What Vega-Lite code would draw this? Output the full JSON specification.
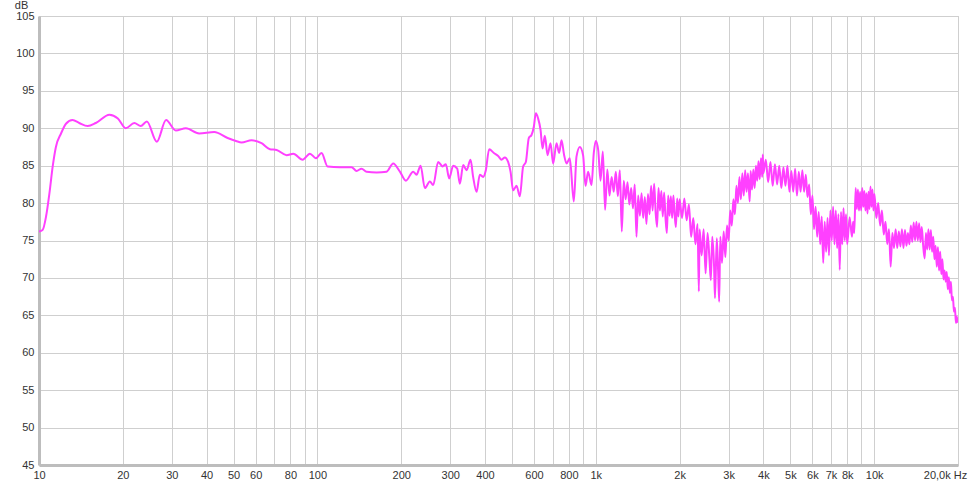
{
  "$schema": "https://vega.github.io/schema/vega-lite/v6.json",
  "width": 919,
  "height": 449,
  "autosize": {"type": "none"},
  "padding": {"left": 39, "top": 16, "right": 17, "bottom": 22},
  "background": "#ffffff",
  "config": {
    "view": {"stroke": "#c4c4c4", "strokeWidth": 1},
    "axis": {
      "labelFont": "Liberation Sans",
      "labelFontSize": 11,
      "labelColor": "#333333",
      "gridColor": "#cfcfcf",
      "gridWidth": 1,
      "gridOpacity": 1,
      "ticks": false,
      "domainColor": "#bdbdbd",
      "domainWidth": 3
    }
  },
  "data": {"values": [
    {"f":10.0,"db":76.2},{"f":10.3,"db":76.4},{"f":10.6,"db":78.2},{"f":10.9,"db":81.3},{"f":11.2,"db":84.9},{"f":11.5,"db":87.5},{"f":12.0,"db":89.3},{"f":12.5,"db":90.6},{"f":13.2,"db":91.1},{"f":13.95,"db":90.7},{"f":14.96,"db":90.3},{"f":16.0,"db":90.7},{"f":17.9,"db":91.8},{"f":19.2,"db":91.3},{"f":20.5,"db":90.0},{"f":22.0,"db":90.7},{"f":23.2,"db":90.3},{"f":24.4,"db":90.9},{"f":26.5,"db":88.2},{"f":28.6,"db":91.1},{"f":31.0,"db":89.7},{"f":33.7,"db":90.0},{"f":37.6,"db":89.3},{"f":42.6,"db":89.5},{"f":47.6,"db":88.7},{"f":51.0,"db":88.3},{"f":53.4,"db":88.1},{"f":58.0,"db":88.4},{"f":63.0,"db":88.0},{"f":67.5,"db":87.2},{"f":71.4,"db":87.1},{"f":77.5,"db":86.4},{"f":81.9,"db":86.6},{"f":88.5,"db":85.8},{"f":94.0,"db":86.6},{"f":98.8,"db":86.0},{"f":103.5,"db":86.7},{"f":108.8,"db":84.9},{"f":120.4,"db":84.8},{"f":132.7,"db":84.8},{"f":138.3,"db":84.3},{"f":144.1,"db":84.6},{"f":150.2,"db":84.2},{"f":163.2,"db":84.1},{"f":177.2,"db":84.2},{"f":187.2,"db":85.3},{"f":197.9,"db":84.2},{"f":207.9,"db":83.0},{"f":220.8,"db":84.2},{"f":227.1,"db":83.8},{"f":234.8,"db":85.0},{"f":243.2,"db":82.0},{"f":253.5,"db":82.9},{"f":260.5,"db":82.4},{"f":271.5,"db":85.5},{"f":281.6,"db":84.9},{"f":289.3,"db":85.2},{"f":297.4,"db":83.3},{"f":307.4,"db":85.0},{"f":317.8,"db":84.6},{"f":324.9,"db":82.6},{"f":333.9,"db":85.1},{"f":343.4,"db":84.4},{"f":354.9,"db":85.8},{"f":362.6,"db":83.5},{"f":372.9,"db":81.5},{"f":383.3,"db":83.8},{"f":393.8,"db":83.5},{"f":402.7,"db":84.4},{"f":414.0,"db":87.2},{"f":430.4,"db":86.7},{"f":446.0,"db":86.3},{"f":458.7,"db":85.8},{"f":471.3,"db":86.1},{"f":484.3,"db":85.5},{"f":494.0,"db":84.2},{"f":504.7,"db":81.7},{"f":519.2,"db":82.3},{"f":533.5,"db":80.9},{"f":548.3,"db":84.9},{"f":560.7,"db":85.5},{"f":574.7,"db":88.7},{"f":587.7,"db":89.1},{"f":599.0,"db":90.2},{"f":609.0,"db":92.0},{"f":620.7,"db":91.3},{"f":633.1,"db":89.8},{"f":643.7,"db":87.3},{"f":656.1,"db":89.0},{"f":670.9,"db":86.4},{"f":687.7,"db":88.0},{"f":702.7,"db":85.3},{"f":722.7,"db":88.0},{"f":738.4,"db":86.7},{"f":753.2,"db":88.4},{"f":769.6,"db":86.4},{"f":785.0,"db":85.3},{"f":806.6,"db":86.0},{"f":833.7,"db":80.2},{"f":852.5,"db":86.2},{"f":876.0,"db":87.5},{"f":900.3,"db":86.4},{"f":918.3,"db":82.3},{"f":938.4,"db":84.2},{"f":965.2,"db":82.4},{"f":983.6,"db":86.7},
    {"f":1000,"db":88.3},{"f":1020,"db":87.1},{"f":1040,"db":83.0},{"f":1060,"db":86.9},{"f":1080,"db":79.1},{"f":1100,"db":84.5},{"f":1120,"db":81.0},{"f":1140,"db":83.5},{"f":1160,"db":81.5},{"f":1180,"db":84.2},{"f":1200,"db":80.9},{"f":1220,"db":84.4},{"f":1240,"db":76.2},{"f":1260,"db":83.0},{"f":1280,"db":80.5},{"f":1300,"db":82.8},{"f":1320,"db":79.8},{"f":1340,"db":82.0},{"f":1360,"db":79.3},{"f":1380,"db":82.5},{"f":1400,"db":75.5},{"f":1420,"db":81.0},{"f":1440,"db":78.3},{"f":1460,"db":81.3},{"f":1480,"db":78.0},{"f":1500,"db":80.8},{"f":1520,"db":77.2},{"f":1540,"db":81.2},{"f":1560,"db":78.5},{"f":1580,"db":82.3},{"f":1600,"db":79.0},{"f":1620,"db":82.6},{"f":1640,"db":78.8},{"f":1660,"db":76.8},{"f":1680,"db":82.0},{"f":1700,"db":79.0},{"f":1720,"db":81.6},{"f":1740,"db":78.2},{"f":1760,"db":81.4},{"f":1780,"db":78.0},{"f":1800,"db":76.0},{"f":1820,"db":81.0},{"f":1840,"db":78.3},{"f":1860,"db":80.9},{"f":1880,"db":78.0},{"f":1900,"db":81.0},{"f":1920,"db":78.4},{"f":1940,"db":76.8},{"f":1960,"db":80.6},{"f":1980,"db":78.2},{"f":2000,"db":80.5},
    {"f":2040,"db":78.0},{"f":2080,"db":80.6},{"f":2120,"db":77.7},{"f":2160,"db":79.8},{"f":2200,"db":75.5},{"f":2240,"db":78.0},{"f":2280,"db":74.5},{"f":2320,"db":77.2},{"f":2345,"db":68.2},{"f":2360,"db":76.5},{"f":2400,"db":73.0},{"f":2440,"db":76.5},{"f":2480,"db":70.6},{"f":2520,"db":76.0},{"f":2560,"db":72.5},{"f":2590,"db":69.7},{"f":2620,"db":75.5},{"f":2660,"db":71.5},{"f":2680,"db":67.3},{"f":2720,"db":75.3},{"f":2750,"db":71.0},{"f":2775,"db":66.8},{"f":2800,"db":75.5},{"f":2840,"db":72.0},{"f":2880,"db":76.2},{"f":2920,"db":72.8},{"f":2960,"db":77.0},{"f":3000,"db":75.0},{"f":3040,"db":79.0},{"f":3080,"db":77.0},{"f":3120,"db":80.5},{"f":3160,"db":78.5},{"f":3200,"db":82.3},{"f":3240,"db":80.0},{"f":3280,"db":83.5},{"f":3320,"db":80.5},{"f":3360,"db":84.0},{"f":3400,"db":81.0},{"f":3440,"db":84.4},{"f":3480,"db":81.5},{"f":3520,"db":84.0},{"f":3570,"db":80.2},{"f":3600,"db":84.3},{"f":3640,"db":81.8},{"f":3680,"db":84.5},{"f":3720,"db":82.0},{"f":3760,"db":85.0},{"f":3800,"db":83.0},{"f":3840,"db":85.6},{"f":3880,"db":83.2},{"f":3920,"db":86.0},{"f":3960,"db":83.5},{"f":3980,"db":86.5},{"f":4000,"db":84.0},
    {"f":4080,"db":85.8},{"f":4160,"db":82.8},{"f":4240,"db":85.5},{"f":4320,"db":82.3},{"f":4400,"db":85.2},{"f":4480,"db":82.5},{"f":4560,"db":85.0},{"f":4640,"db":82.0},{"f":4720,"db":84.8},{"f":4800,"db":82.3},{"f":4880,"db":85.0},{"f":4960,"db":81.5},{"f":5040,"db":84.3},{"f":5120,"db":81.5},{"f":5200,"db":84.6},{"f":5280,"db":81.0},{"f":5360,"db":84.2},{"f":5440,"db":81.5},{"f":5520,"db":84.4},{"f":5600,"db":81.5},{"f":5680,"db":83.8},{"f":5760,"db":80.8},{"f":5840,"db":82.5},{"f":5920,"db":78.5},{"f":6000,"db":81.0},{"f":6080,"db":76.5},{"f":6160,"db":79.5},{"f":6240,"db":75.5},{"f":6320,"db":78.8},{"f":6400,"db":74.5},{"f":6480,"db":78.2},{"f":6560,"db":72.0},{"f":6640,"db":77.5},{"f":6720,"db":73.5},{"f":6800,"db":78.0},{"f":6880,"db":73.0},{"f":6960,"db":79.0},{"f":7040,"db":75.0},{"f":7120,"db":79.5},{"f":7200,"db":74.5},{"f":7280,"db":79.0},{"f":7360,"db":74.0},{"f":7440,"db":78.5},{"f":7520,"db":71.1},{"f":7600,"db":78.8},{"f":7680,"db":74.5},{"f":7760,"db":79.3},{"f":7840,"db":75.0},{"f":7920,"db":78.5},{"f":8000,"db":74.5},
    {"f":8160,"db":78.1},{"f":8320,"db":75.5},{"f":8400,"db":77.5},{"f":8480,"db":76.0},{"f":8580,"db":82.0},{"f":8660,"db":79.2},{"f":8740,"db":81.8},{"f":8820,"db":79.0},{"f":8900,"db":81.5},{"f":8980,"db":79.0},{"f":9060,"db":82.0},{"f":9140,"db":79.5},{"f":9220,"db":81.6},{"f":9300,"db":79.0},{"f":9380,"db":81.3},{"f":9460,"db":78.6},{"f":9540,"db":81.5},{"f":9620,"db":79.2},{"f":9700,"db":82.2},{"f":9780,"db":79.5},{"f":9860,"db":81.8},{"f":9940,"db":79.0},{"f":10020,"db":81.2},{"f":10180,"db":78.0},{"f":10340,"db":80.0},{"f":10500,"db":77.0},{"f":10660,"db":79.0},{"f":10820,"db":75.8},{"f":10980,"db":77.5},{"f":11140,"db":74.5},{"f":11300,"db":76.5},{"f":11460,"db":71.5},{"f":11620,"db":76.0},{"f":11780,"db":74.0},{"f":11940,"db":76.5},{"f":12100,"db":74.0},{"f":12260,"db":76.2},{"f":12420,"db":74.2},{"f":12580,"db":76.5},{"f":12740,"db":74.0},{"f":12900,"db":76.4},{"f":13060,"db":74.3},{"f":13220,"db":76.0},{"f":13380,"db":74.5},{"f":13540,"db":77.0},{"f":13700,"db":74.8},{"f":13860,"db":77.4},{"f":14020,"db":75.0},{"f":14180,"db":77.5},{"f":14340,"db":75.0},{"f":14500,"db":77.3},{"f":14660,"db":74.8},{"f":14820,"db":76.8},{"f":14980,"db":74.5},{"f":15180,"db":72.6},{"f":15340,"db":76.0},{"f":15500,"db":73.8},{"f":15660,"db":76.5},{"f":15820,"db":73.8},{"f":15980,"db":76.4},{"f":16140,"db":73.5},{"f":16300,"db":75.5},{"f":16460,"db":72.5},{"f":16620,"db":74.3},{"f":16780,"db":71.5},{"f":16940,"db":74.1},{"f":17100,"db":71.0},{"f":17260,"db":73.5},{"f":17420,"db":70.5},{"f":17580,"db":72.5},{"f":17740,"db":69.8},{"f":17900,"db":71.0},{"f":18060,"db":69.5},{"f":18220,"db":70.8},{"f":18380,"db":68.5},{"f":18540,"db":70.1},{"f":18700,"db":68.0},{"f":18860,"db":69.5},{"f":19020,"db":67.0},{"f":19180,"db":67.5},{"f":19340,"db":65.5},{"f":19500,"db":66.0},{"f":19660,"db":64.0},{"f":19820,"db":64.8},{"f":19950,"db":64.0}
  ]},
  "mark": {"type": "line", "color": "#ff40ff", "strokeWidth": 2, "clip": true, "interpolate": "monotone"},
  "encoding": {
    "x": {
      "field": "f", "type": "quantitative",
      "scale": {"type": "log", "domain": [10, 20000], "nice": false},
      "axis": {
        "title": null,
        "values": [10,20,30,40,50,60,70,80,90,100,200,300,400,500,600,700,800,900,1000,2000,3000,4000,5000,6000,7000,8000,9000,10000,20000],
        "labelExpr": "indexof([70,90,500,700,900,9000], datum.value) >= 0 ? '' : datum.value == 20000 ? '20,0k Hz' : datum.value >= 1000 ? (datum.value/1000) + 'k' : datum.value + ''",
        "labelOffset": {"condition": {"test": "datum.value == 20000", "value": -13}, "value": 0},
        "labelOverlap": false,
        "labelBound": false,
        "labelFlush": false,
        "labelPadding": 4
      }
    },
    "y": {
      "field": "db", "type": "quantitative",
      "scale": {"domain": [45, 105], "nice": false, "zero": false},
      "axis": {
        "values": [45,50,55,60,65,70,75,80,85,90,95,100,105],
        "title": "dB",
        "titleAngle": 0,
        "titleFont": "Liberation Sans",
        "titleFontSize": 11,
        "titleFontWeight": "normal",
        "titleColor": "#333333",
        "titleX": -18,
        "titleY": -6,
        "titleAlign": "center",
        "titleBaseline": "bottom",
        "labelPadding": 5,
        "labelOverlap": false,
        "labelBound": false,
        "labelFlush": false
      }
    }
  }
}
